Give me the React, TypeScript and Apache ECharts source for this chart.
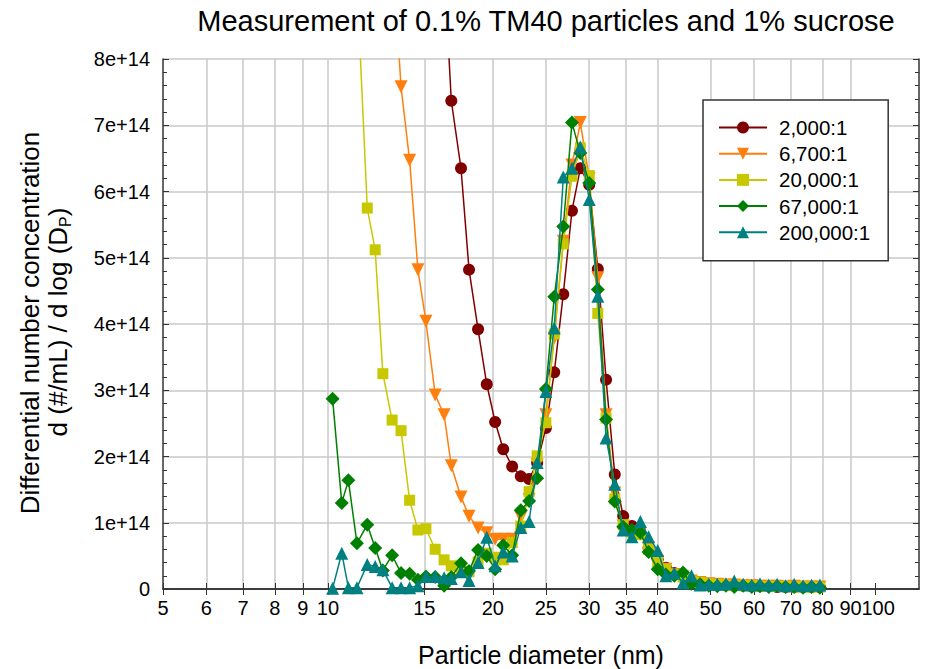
import React, { useEffect, useRef } from "react";
import * as echarts from "echarts";

// Particle diameter bins (nm)
const diameters = [
  10.2, 10.6, 10.9, 11.3, 11.8, 12.2, 12.6, 13.1, 13.6, 14.1, 14.6, 15.1, 15.7, 16.3, 16.8, 17.5,
  18.1, 18.8, 19.5, 20.2, 20.9, 21.7, 22.5, 23.3, 24.1, 25.0, 25.9, 26.9, 27.9, 28.9, 30.0, 31.1,
  32.2, 33.4, 34.6, 35.9, 37.2, 38.5, 40.0, 41.4, 42.9, 44.5, 46.1, 47.8, 49.6, 51.4, 53.3, 55.2,
  57.3, 59.4, 61.5, 63.8, 66.1, 68.5, 71.0, 73.7, 76.4, 79.1,
];

// Values in units of 1e14 (#/mL per dlogDp)
const dil2000 = [
  null, null, null, null, null, null, null, null, null, null, null, null, null, 9.4, 7.37, 6.35,
  4.82, 3.92, 3.09, 2.52, 2.11, 1.85, 1.70, 1.66, 1.90, 2.43, 3.27, 4.45, 5.71, 6.35, 6.1, 4.83,
  3.16, 1.73, 1.10, 0.95, 0.85, 0.62, 0.45, 0.32, 0.24, 0.18, 0.13, 0.10, 0.08, 0.07, 0.06, 0.05,
  0.05, 0.04, 0.04, 0.04, 0.03, 0.03, 0.03, 0.03, 0.03, 0.03,
];
const dil6700 = [
  null, null, null, null, null, null, null, 9.74, 7.58, 6.47, 4.82, 4.04, 2.93, 2.63, 1.86, 1.39,
  1.10, 0.92, 0.85, 0.75, 0.75, 0.75, 1.08, 1.35, 1.88, 2.63, 3.79, 5.25, 6.40, 7.04, 6.20, 4.70,
  2.63, 1.45, 0.95, 0.86, 0.84, 0.62, 0.42, 0.30, 0.22, 0.18, 0.12, 0.10, 0.08, 0.07, 0.06, 0.06,
  0.05, 0.05, 0.04, 0.04, 0.04, 0.03, 0.04, 0.03, 0.03, 0.03,
];
const dil20000 = [
  null, null, null, 9.16, 5.75, 5.12, 3.25, 2.55, 2.39, 1.34, 0.89, 0.91, 0.60, 0.44, 0.35, 0.28,
  0.26, 0.41, 0.54, 0.48, 0.44, 0.70, 0.95, 1.47, 2.01, 2.51, 3.85, 5.21, 6.23, 6.66, 6.24, 4.16,
  2.58, 1.36, 0.97, 0.86, 0.82, 0.60, 0.40, 0.30, 0.22, 0.18, 0.12, 0.10, 0.08, 0.07, 0.06, 0.06,
  0.05, 0.05, 0.04, 0.04, 0.04, 0.04, 0.03, 0.04, 0.03, 0.03,
];
const dil67000 = [
  2.87, 1.30, 1.64, 0.69, 0.97, 0.62, 0.28, 0.51, 0.24, 0.23, 0.14, 0.19, 0.18, 0.05, 0.18, 0.39,
  0.27, 0.59, 0.50, 0.30, 0.66, 0.51, 1.19, 1.33, 1.67, 3.02, 4.41, 5.47, 7.04, 6.58, 6.13, 4.52,
  2.56, 1.32, 0.94, 0.89, 0.85, 0.56, 0.30, 0.22, 0.20, 0.25, 0.08, 0.07, 0.05, 0.04, 0.05, 0.03,
  0.05, 0.03, 0.04, 0.03, 0.04, 0.03, 0.03, 0.02, 0.03, 0.02,
];
const dil200000 = [
  0.01, 0.54, 0.02, 0.02, 0.37, 0.34, 0.29, 0.02, 0.02, 0.02, 0.05, 0.19, 0.19, 0.17, 0.16, 0.26,
  0.13, 0.40, 0.78, 0.35, 0.56, 0.50, 0.93, 1.02, 1.91, 2.98, 3.94, 6.22, 6.35, 6.67, 5.88, 4.42,
  2.28, 1.58, 0.89, 0.79, 1.02, 0.79, 0.58, 0.20, 0.24, 0.09, 0.20, 0.06, 0.07, 0.07, 0.08, 0.12,
  0.07, 0.06, 0.08, 0.06, 0.07, 0.05, 0.07, 0.05, 0.06, 0.06,
];

const seriesNames = ["2,000:1", "6,700:1", "20,000:1", "67,000:1", "200,000:1"];
const seriesValues = [dil2000, dil6700, dil20000, dil67000, dil200000];
const seriesColors = ["#800000", "#ff7f0e", "#c8c800", "#008000", "#008080"];
const seriesSymbols = ["circle", "triangle", "rect", "diamond", "triangle"];
const seriesSymbolRotate = [0, 180, 0, 0, 0];
const seriesSymbolSize = [12, 13, 11, 14, 13];

const xTickValues = [5, 6, 7, 8, 9, 10, 15, 20, 25, 30, 35, 40, 50, 60, 70, 80, 90, 100];
const xLabelValues = [5, 6, 7, 8, 9, 10, 15, 20, 25, 30, 35, 40, 50, 60, 70, 80, 90];
const xLabelValuesExtra = [100];
const xGridValues = [6, 7, 8, 9, 10, 15, 20, 25, 30, 35, 40, 50, 60, 70, 80, 90];

const FONT = "'Liberation Sans', Arial, sans-serif";
const AXIS_COLOR = "#333";
const GRID_COLOR = "#c8c8c8";

export default function App() {
  const ref = useRef<HTMLDivElement>(null);

  useEffect(() => {
    if (!ref.current) return;
    const chart = echarts.init(ref.current, undefined, { renderer: "svg" });

    const series = seriesNames.map((name, k) => ({
      type: "line",
      name,
      xAxisIndex: 0,
      yAxisIndex: 0,
      data: diameters
        .map((d, i) => (seriesValues[k][i] == null ? null : [d, seriesValues[k][i]]))
        .filter((p) => p !== null),
      symbol: seriesSymbols[k],
      symbolSize: seriesSymbolSize[k],
      symbolRotate: seriesSymbolRotate[k],
      showAllSymbol: true,
      clip: true,
      lineStyle: { color: seriesColors[k], width: 1.5 },
      itemStyle: { color: seriesColors[k] },
      emphasis: { disabled: true },
      z: 3 + k,
    }));

    const logAxisBase = {
      type: "log",
      logBase: 10,
      min: 5,
      max: 120,
    };

    const tickLabelStyle = {
      margin: 9,
      fontSize: 20,
      color: "#000",
      fontFamily: FONT,
      hideOverlap: false,
      formatter: (v: number) => String(Math.round(v)),
    };

    chart.setOption({
      animation: false,
      backgroundColor: "#fff",
      textStyle: { fontFamily: FONT },
      grid: { left: 163, right: 8, top: 59, bottom: 80, containLabel: false },
      xAxis: [
        {
          ...logAxisBase,
          position: "bottom",
          axisLine: { show: true, lineStyle: { color: AXIS_COLOR, width: 1.5 } },
          axisTick: { show: true, inside: true, length: 6, customValues: xTickValues, lineStyle: { color: AXIS_COLOR } },
          axisLabel: { show: true, customValues: xLabelValues, ...tickLabelStyle },
          splitLine: { show: false },
          minorTick: { show: false },
        },
        {
          ...logAxisBase,
          position: "top",
          axisLine: { show: true, lineStyle: { color: AXIS_COLOR, width: 1.5 } },
          axisTick: { show: true, inside: true, length: 6, customValues: xTickValues, lineStyle: { color: AXIS_COLOR } },
          axisLabel: { show: false },
          splitLine: { show: false },
        },
        {
          ...logAxisBase,
          position: "bottom",
          axisLine: { show: false },
          axisTick: { show: false, customValues: xGridValues },
          axisLabel: { show: false, customValues: xGridValues },
          splitLine: { show: true, lineStyle: { color: GRID_COLOR, width: 1.5 } },
          z: 0,
        },
        {
          ...logAxisBase,
          position: "bottom",
          axisLine: { show: false },
          axisTick: { show: false, customValues: xLabelValuesExtra },
          axisLabel: { show: true, customValues: xLabelValuesExtra, ...tickLabelStyle, padding: [0, 0, 0, 5] },
          splitLine: { show: false },
        },
      ],
      yAxis: [
        {
          type: "value",
          min: 0,
          max: 8,
          interval: 1,
          position: "left",
          axisLine: { show: true, lineStyle: { color: AXIS_COLOR, width: 1.5 } },
          axisTick: { show: true, inside: true, length: 6, lineStyle: { color: AXIS_COLOR } },
          minorTick: { show: true, splitNumber: 5, length: 4, lineStyle: { color: AXIS_COLOR } },
          axisLabel: {
            margin: 13,
            fontSize: 20,
            color: "#000",
            fontFamily: FONT,
            formatter: (v: number) => (v === 0 ? "0" : `${v}e+14`),
          },
          splitLine: { show: true, lineStyle: { color: GRID_COLOR, width: 1.5 } },
        },
        {
          type: "value",
          min: 0,
          max: 8,
          interval: 1,
          position: "right",
          axisLine: { show: true, lineStyle: { color: AXIS_COLOR, width: 1.5 } },
          axisTick: { show: true, inside: true, length: 6, lineStyle: { color: AXIS_COLOR } },
          minorTick: { show: true, splitNumber: 5, length: 4, lineStyle: { color: AXIS_COLOR } },
          axisLabel: { show: false },
          splitLine: { show: false },
        },
      ],
      legend: {
        orient: "vertical",
        left: 703,
        top: 100,
        padding: [17, 18, 18, 15],
        itemWidth: 48,
        itemHeight: 15,
        itemGap: 5.2,
        backgroundColor: "#fff",
        borderColor: AXIS_COLOR,
        borderWidth: 1.5,
        borderRadius: 0,
        selectedMode: false,
        textStyle: { fontSize: 20.5, lineHeight: 20.5, color: "#000", fontFamily: FONT, padding: [0, 0, 0, 7] },
        data: seriesNames,
      },
      graphic: [
        {
          type: "text",
          x: 546,
          y: 21,
          style: {
            text: "Measurement of 0.1% TM40 particles and 1% sucrose",
            fontSize: 29,
            fontFamily: FONT,
            fill: "#000",
            align: "center",
            verticalAlign: "middle",
          },
        },
        {
          type: "text",
          x: 541,
          y: 655,
          style: {
            text: "Particle diameter (nm)",
            fontSize: 25,
            fontFamily: FONT,
            fill: "#000",
            align: "center",
            verticalAlign: "middle",
          },
        },
        {
          type: "text",
          x: 30,
          y: 323,
          rotation: Math.PI / 2,
          style: {
            text: "Differential number concentration",
            fontSize: 26,
            fontFamily: FONT,
            fill: "#000",
            align: "center",
            verticalAlign: "middle",
          },
        },
        {
          type: "text",
          x: 58,
          y: 322,
          rotation: Math.PI / 2,
          style: {
            text: "d (#/mL) / d log (D{s|P})",
            fontSize: 26,
            lineHeight: 30,
            fontFamily: FONT,
            fill: "#000",
            align: "center",
            verticalAlign: "middle",
            rich: {
              s: { fontSize: 16, lineHeight: 16, verticalAlign: "bottom", fontFamily: FONT, fill: "#000" },
            },
          },
        },
      ],
      series,
    });

    return () => chart.dispose();
  }, []);

  return (
    <div
      ref={ref}
      style={{ position: "fixed", left: 0, top: 0, width: 927, height: 669, background: "#fff" }}
    />
  );
}
